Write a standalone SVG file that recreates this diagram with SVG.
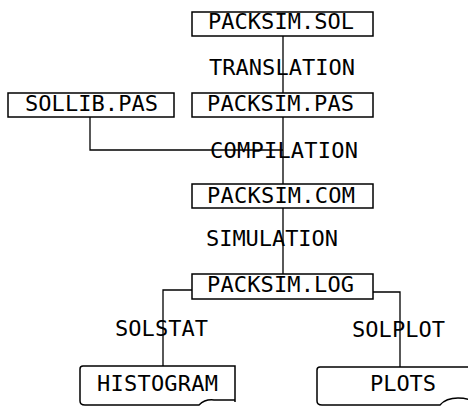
<svg xmlns="http://www.w3.org/2000/svg" width="468" height="407" viewBox="0 0 468 407">
<style>
.box{fill:none;stroke:#000;stroke-width:1.5}
.ln{fill:none;stroke:#000;stroke-width:1.3}
text{font-family:"DejaVu Sans Mono","Liberation Mono",monospace;font-size:22px;fill:#000}
</style>
<rect width="468" height="407" fill="#fff"/>
<g id="connectors">
<path class="ln" d="M283,36 V93 M283,117 V184 M283,208 V274"/>
<path class="ln" d="M90,117 V150 H283"/>
<path class="ln" d="M192,290 H163 V366"/>
<path class="ln" d="M373,292 H400 V367"/>
</g>
<g id="translation"><text x="209" y="75" textLength="146">TRANSLATION</text></g>
<g id="compilation"><text x="210" y="158" textLength="148">COMPILATION</text></g>
<g id="simulation"><text x="206" y="246" textLength="132">SIMULATION</text></g>
<g id="solstat"><text x="115" y="336" textLength="93">SOLSTAT</text></g>
<g id="solplot"><text x="352" y="337" textLength="93">SOLPLOT</text></g>
<g id="packsim-sol"><rect class="box" x="192" y="12" width="181" height="24"/><text x="208" y="29" textLength="146">PACKSIM.SOL</text></g>
<g id="packsim-pas"><rect class="box" x="192" y="93" width="181" height="24"/><text x="207" y="111" textLength="147">PACKSIM.PAS</text></g>
<g id="sollib-pas"><rect class="box" x="8" y="93" width="166" height="24"/><text x="25" y="111" textLength="133">SOLLIB.PAS</text></g>
<g id="packsim-com"><rect class="box" x="192" y="184" width="181" height="24"/><text x="207" y="203" textLength="148">PACKSIM.COM</text></g>
<g id="packsim-log"><rect class="box" x="192" y="274" width="181" height="25"/><text x="207" y="292" textLength="147">PACKSIM.LOG</text></g>
<g id="histogram"><path class="box" d="M235,402 V366 H83 Q80,366 80,369 V401 Q80,405 85,405 H199 Q205,399 214,400 H235"/><text x="97" y="391" textLength="121">HISTOGRAM</text></g>
<g id="plots"><path class="box" d="M470,367 H320 Q317,367 317,370 V401 Q317,405 322,405 H440 Q446,398 458,398 Q465,398 470,400"/><text x="370" y="391" textLength="66">PLOTS</text></g>
</svg>
